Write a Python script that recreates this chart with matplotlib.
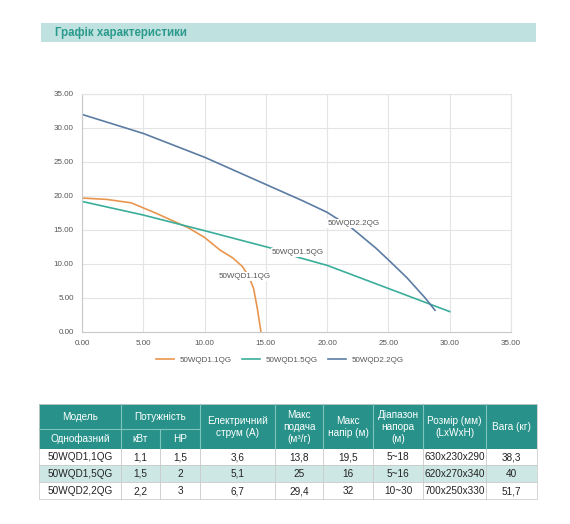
import matplotlib.pyplot as plt
from matplotlib.patches import Rectangle

plt.rcParams['font.family'] = ['Liberation Sans', 'DejaVu Sans']

# curve data (flow m3/h, head m)
q_11 = [0, 2, 4, 6, 8.7, 10, 11.3, 12.3, 13.1, 13.6, 14.0, 14.3, 14.6]
h_11 = [19.7, 19.5, 19.0, 17.5, 15.3, 13.9, 12.0, 10.9, 9.6, 8.2, 6.4, 3.5, 0]
q_15 = [0, 5, 10, 15.5, 17.6, 20, 25, 30]
h_15 = [19.2, 17.2, 14.9, 12.3, 11.0, 9.8, 6.4, 3.0]
q_22 = [0, 5, 10, 15, 18, 20, 22, 24, 25, 26.5, 28, 28.8]
h_22 = [32, 29.2, 25.7, 21.7, 19.3, 17.6, 15.3, 12.3, 10.6, 8.0, 5.0, 3.2]
series_names = ['50WQD1.1QG', '50WQD1.5QG', '50WQD2.2QG']
series_colors = ['#E8964F', '#3AAE9B', '#5B7CA3']
ticks = [0, 5, 10, 15, 20, 25, 30, 35]

# table
head_top = ['Модель', 'Потужність']
head_sub = ['Однофазний', 'кВт', 'HP']
head_tall = ['Електричний\nструм (А)', 'Макс\nподача\n(м³/г)', 'Макс\nнапір (м)',
             'Діапазон\nнапора\n(м)', 'Розмір (мм)\n(LxWxH)', 'Вага (кг)']
rows = [
    ['50WQD1,1QG', '1,1', '1,5', '3,6', '13,8', '19,5', '5~18', '630x230x290', '38,3'],
    ['50WQD1,5QG', '1,5', '2', '5,1', '25', '16', '5~16', '620x270x340', '40'],
    ['50WQD2,2QG', '2,2', '3', '6,7', '29,4', '32', '10~30', '700x250x330', '51,7'],
]

W, H = 570, 524
fig = plt.figure(figsize=(W / 100, H / 100), dpi=100)

# background layer in pixel coords
bg = fig.add_axes([0, 0, 1, 1])
bg.set_xlim(0, W)
bg.set_ylim(H, 0)
bg.axis('off')

bg.add_patch(Rectangle((41, 22.7), 495, 19, color='#BFE1DF', lw=0))
bg.text(55, 32.5, 'Графік характеристики', fontsize=8.3, fontweight='bold',
        color='#2B9A8C', va='center')

# chart
ax = fig.add_axes([82 / W, 1 - 332 / H, (511 - 82) / W, (332 - 94) / H])
l1, = ax.plot(q_11, h_11, color=series_colors[0], lw=1.2, label=series_names[0])
l2, = ax.plot(q_15, h_15, color=series_colors[1], lw=1.2, label=series_names[1])
l3, = ax.plot(q_22, h_22, color=series_colors[2], lw=1.2, label=series_names[2])
ax.set_xlim(0, 35)
ax.set_ylim(0, 35)
ax.set_xticks(ticks)
ax.set_yticks(ticks)
ax.set_xticklabels(['%.2f' % t for t in ticks])
ax.set_yticklabels(['%.2f' % t for t in ticks])
ax.tick_params(length=0, labelsize=5.8, labelcolor='#555555', pad=6)
ax.grid(color='#e4e4e4', lw=0.8)
ax.set_axisbelow(True)
for s in ['top', 'right']:
    ax.spines[s].set_color('#e4e4e4')
for s in ['left', 'bottom']:
    ax.spines[s].set_color('#c8c8c8')

lab = dict(fontsize=5.8, color='#555555', ha='center', va='center',
           bbox=dict(facecolor='white', edgecolor='none', pad=0.8))
ax.text(13.3, 8.2, series_names[0], **lab)
ax.text(17.6, 11.7, series_names[1], **lab)
ax.text(22.2, 16.0, series_names[2], **lab)

fig.legend(handles=[l1, l2, l3], loc='center', ncol=3, frameon=False,
           bbox_to_anchor=(280 / W, 1 - 360 / H), fontsize=5.8,
           labelcolor='#555555', handlelength=2.2, columnspacing=1.2)

# table
cols = [39, 121, 160, 200, 275, 323, 373, 423, 486, 537]
ys = [404, 429, 449, 465, 482, 499]
teal = '#28928A'
sep = '#7FC4BC'
bg.add_patch(Rectangle((cols[0], ys[0]), cols[-1] - cols[0], ys[2] - ys[0],
                       color=teal, lw=0))
fills = ['white', '#CDE7E4', 'white']
for i in range(3):
    bg.add_patch(Rectangle((cols[0], ys[2 + i]), cols[-1] - cols[0], ys[3 + i] - ys[2 + i],
                           facecolor=fills[i], edgecolor='none'))

# header separators
bg.plot([cols[0], cols[3]], [ys[1], ys[1]], color=sep, lw=0.8)
for x in cols[1:-1]:
    y0 = ys[1] if x == cols[2] else ys[0]
    bg.plot([x, x], [y0, ys[2]], color=sep, lw=0.8)
# body lines
for y in ys[3:5]:
    bg.plot([cols[0], cols[-1]], [y, y], color='#c9c9c9', lw=0.6)
for x in cols[1:-1]:
    bg.plot([x, x], [ys[2], ys[5]], color='#c9c9c9', lw=0.6)
bg.add_patch(Rectangle((cols[0], ys[0]), cols[-1] - cols[0], ys[5] - ys[0],
                       fill=False, edgecolor='#cfcfcf', lw=0.6))

hs = dict(fontsize=7.2, color='white', ha='center', va='center', linespacing=1.25)
bg.text((cols[0] + cols[1]) / 2, (ys[0] + ys[1]) / 2, head_top[0], **hs)
bg.text((cols[1] + cols[3]) / 2, (ys[0] + ys[1]) / 2, head_top[1], **hs)
for j, t in enumerate(head_sub):
    bg.text((cols[j] + cols[j + 1]) / 2, (ys[1] + ys[2]) / 2, t, **hs)
for j, t in enumerate(head_tall):
    bg.text((cols[3 + j] + cols[4 + j]) / 2, (ys[0] + ys[2]) / 2, t, **hs)

for i, r in enumerate(rows):
    for j, t in enumerate(r):
        bg.text((cols[j] + cols[j + 1]) / 2, (ys[2 + i] + ys[3 + i]) / 2 + 0.5, t,
                fontsize=7.2, color='#222222', ha='center', va='center')

plt.savefig('out.png', dpi=100)
